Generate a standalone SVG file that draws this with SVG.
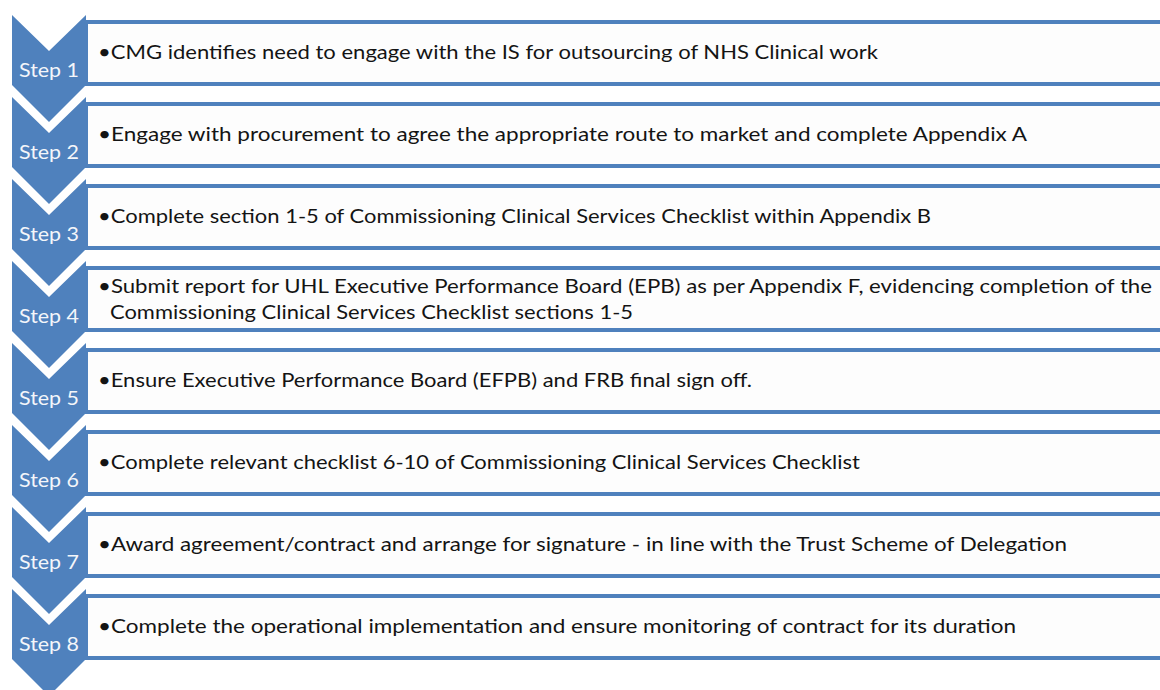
<svg xmlns="http://www.w3.org/2000/svg" xmlns:xlink="http://www.w3.org/1999/xlink" width="1160" height="690" viewBox="0 0 1160 690">
  <style>
    .chev { fill: #4f81bd; }
    .box { fill: #fdfdfd; stroke: #4f81bd; stroke-width: 4; }
    .lbl { font-family: Lato, "Liberation Sans", sans-serif; font-size: 20px; fill: #f4f6fa; text-anchor: middle; }
    .txt { font-family: Lato, "Liberation Sans", sans-serif; font-size: 20px; fill: #141414; }
  </style>
  <defs>
    <!-- downward chevron, top edge at y=0 -->
    <polygon id="chevron" class="chev" points="12,0 49,36 86,0 86,70 49,107 12,70"/>
  </defs>
  <rect width="1160" height="690" fill="#ffffff"/>

  <g id="step1">
    <rect class="box" x="86" y="22" width="1080" height="62"/>
    <use xlink:href="#chevron" href="#chevron" y="15"/>
    <text class="lbl" x="49" y="77" textLength="60" lengthAdjust="spacingAndGlyphs">Step 1</text>
    <text class="txt" x="98" y="59" textLength="780" lengthAdjust="spacingAndGlyphs">•CMG identifies need to engage with the IS for outsourcing of NHS Clinical work</text>
  </g>

  <g id="step2">
    <rect class="box" x="86" y="104" width="1080" height="62"/>
    <use xlink:href="#chevron" href="#chevron" y="97"/>
    <text class="lbl" x="49" y="159" textLength="60" lengthAdjust="spacingAndGlyphs">Step 2</text>
    <text class="txt" x="98" y="141" textLength="929" lengthAdjust="spacingAndGlyphs">•Engage with procurement to agree the appropriate route to market and complete Appendix A</text>
  </g>

  <g id="step3">
    <rect class="box" x="86" y="186" width="1080" height="62"/>
    <use xlink:href="#chevron" href="#chevron" y="179"/>
    <text class="lbl" x="49" y="241" textLength="60" lengthAdjust="spacingAndGlyphs">Step 3</text>
    <text class="txt" x="98" y="223" textLength="833" lengthAdjust="spacingAndGlyphs">•Complete section 1-5 of Commissioning Clinical Services Checklist within Appendix B</text>
  </g>

  <g id="step4">
    <rect class="box" x="86" y="268" width="1080" height="62"/>
    <use xlink:href="#chevron" href="#chevron" y="261"/>
    <text class="lbl" x="49" y="323" textLength="60" lengthAdjust="spacingAndGlyphs">Step 4</text>
    <text class="txt" x="98" y="293" textLength="1054" lengthAdjust="spacingAndGlyphs">•Submit report for UHL Executive Performance Board (EPB) as per Appendix F, evidencing completion of the</text>
    <text class="txt" x="110" y="319" textLength="523" lengthAdjust="spacingAndGlyphs">Commissioning Clinical Services Checklist sections 1-5</text>
  </g>

  <g id="step5">
    <rect class="box" x="86" y="350" width="1080" height="62"/>
    <use xlink:href="#chevron" href="#chevron" y="343"/>
    <text class="lbl" x="49" y="405" textLength="60" lengthAdjust="spacingAndGlyphs">Step 5</text>
    <text class="txt" x="98" y="387" textLength="654" lengthAdjust="spacingAndGlyphs">•Ensure Executive Performance Board (EFPB) and FRB final sign off.</text>
  </g>

  <g id="step6">
    <rect class="box" x="86" y="432" width="1080" height="62"/>
    <use xlink:href="#chevron" href="#chevron" y="425"/>
    <text class="lbl" x="49" y="487" textLength="60" lengthAdjust="spacingAndGlyphs">Step 6</text>
    <text class="txt" x="98" y="469" textLength="762" lengthAdjust="spacingAndGlyphs">•Complete relevant checklist 6-10 of Commissioning Clinical Services Checklist</text>
  </g>

  <g id="step7">
    <rect class="box" x="86" y="514" width="1080" height="62"/>
    <use xlink:href="#chevron" href="#chevron" y="507"/>
    <text class="lbl" x="49" y="569" textLength="60" lengthAdjust="spacingAndGlyphs">Step 7</text>
    <text class="txt" x="98" y="551" textLength="969" lengthAdjust="spacingAndGlyphs">•Award agreement/contract and arrange for signature - in line with the Trust Scheme of Delegation</text>
  </g>

  <g id="step8">
    <rect class="box" x="86" y="596" width="1080" height="62"/>
    <use xlink:href="#chevron" href="#chevron" y="589"/>
    <text class="lbl" x="49" y="651" textLength="60" lengthAdjust="spacingAndGlyphs">Step 8</text>
    <text class="txt" x="98" y="633" textLength="918" lengthAdjust="spacingAndGlyphs">•Complete the operational implementation and ensure monitoring of contract for its duration</text>
  </g>
</svg>
